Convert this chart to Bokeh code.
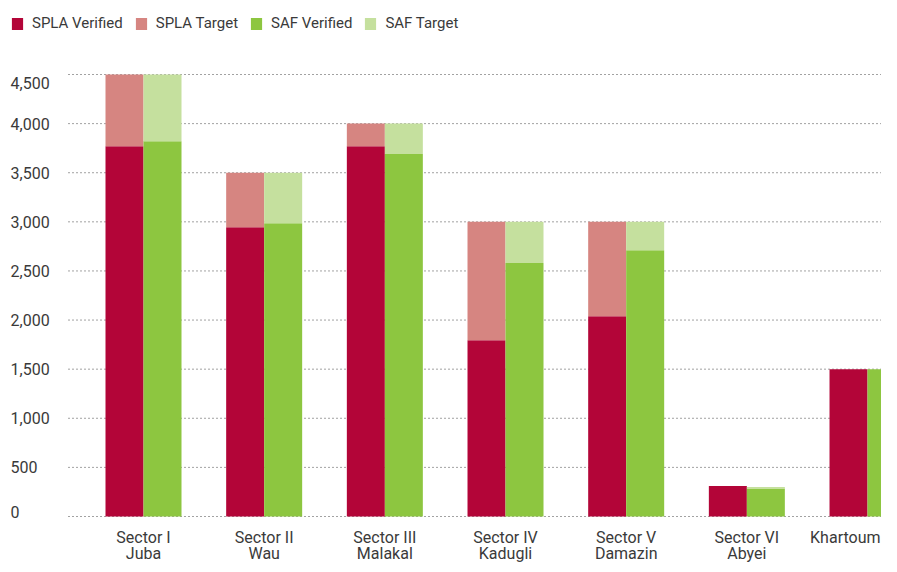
from bokeh.plotting import figure
from bokeh.models import Range1d, Legend, LegendItem, ColumnDataSource
from bokeh.core.properties import value
from bokeh.embed import file_html
from bokeh.resources import INLINE

# ---- data ----
sectors = ["Sector I", "Sector II", "Sector III", "Sector IV", "Sector V", "Sector VI", "Khartoum"]
towns = ["Juba", "Wau", "Malakal", "Kadugli", "Damazin", "Abyei", ""]
spla_verified = [3770, 2945, 3770, 1795, 2040, 310, 1500]
spla_target = [4500, 3500, 4000, 3000, 3000, 310, 1500]
saf_verified = [3820, 2985, 3690, 2580, 2710, 285, 1500]
saf_target = [4500, 3500, 4000, 3000, 3000, 300, 1500]
y_ticks = [0, 500, 1000, 1500, 2000, 2500, 3000, 3500, 4000, 4500]
y_tick_labels = ["0", "500", "1,000", "1,500", "2,000", "2,500", "3,000", "3,500", "4,000", "4,500"]

# ---- style ----
FONT_NAME = "Roboto"
FONT = value(FONT_NAME)
TXT = "#3a3a3a"
C_SPLA_V = "#b30538"
C_SPLA_T = "#d68581"
C_SAF_V = "#8dc640"
C_SAF_T = "#c5e09e"

W, H = 881, 564
px_per_unit_x = 120.67
x0_px = 143.0
x_start = -x0_px / px_per_unit_x
x_end = (W - x0_px) / px_per_unit_x
py = 442.0 / 4500.0
y_end = 4500 + 74 / py
y_start = -(H - 516) / py
bw = 38 / px_per_unit_x
grid_x0 = (68 - x0_px) / px_per_unit_x

p = figure(width=W, height=H, output_backend="svg", toolbar_location=None,
           x_range=Range1d(x_start, x_end), y_range=Range1d(y_start, y_end),
           x_axis_type=None, y_axis_type=None, min_border=0)
p.outline_line_color = None
p.background_fill_color = "white"

xs = list(range(len(sectors)))
src = ColumnDataSource(dict(
    x_spla=[i - bw / 2 for i in xs], x_saf=[i + bw / 2 for i in xs],
    spla_v=spla_verified, spla_t=spla_target, saf_v=saf_verified, saf_t=saf_target,
    zero=[0] * len(xs),
))

# gridlines
p.segment(x0=[grid_x0] * len(y_ticks), x1=[x_end + 1] * len(y_ticks), y0=y_ticks, y1=y_ticks,
          line_color="#444444", line_width=1, line_dash="1 3")

r1 = p.vbar(x="x_spla", width=bw, bottom="zero", top="spla_v", source=src,
            fill_color=C_SPLA_V, line_color=None)
r2 = p.vbar(x="x_spla", width=bw, bottom="spla_v", top="spla_t", source=src,
            fill_color=C_SPLA_T, line_color=None)
r3 = p.vbar(x="x_saf", width=bw, bottom="zero", top="saf_v", source=src,
            fill_color=C_SAF_V, line_color=None)
r4 = p.vbar(x="x_saf", width=bw, bottom="saf_v", top="saf_t", source=src,
            fill_color=C_SAF_T, line_color=None)

# y tick labels (left aligned)
yoff = [(-5 if t == min(y_ticks) else (8 if t == max(y_ticks) else 0)) for t in y_ticks]
ysrc = ColumnDataSource(dict(x=[x_start] * len(y_ticks), y=y_ticks, t=y_tick_labels, off=yoff))
p.text(x="x", y="y", text="t", y_offset="off", x_offset=10, source=ysrc, text_font=FONT,
       text_font_size="16px", text_color=TXT, text_align="left", text_baseline="middle")

# category labels (last one kept inside the right edge)
edge = x_end - 1.0 / px_per_unit_x
lab_x = [i if i < len(xs) - 1 else edge for i in xs]
lab_align = ["center" if i < len(xs) - 1 else "right" for i in xs]
csrc = ColumnDataSource(dict(x=lab_x, y=[0] * len(xs), s=sectors, t=towns, a=lab_align))
p.text(x="x", y="y", text="s", y_offset=21, source=csrc, text_font=FONT, text_align="a",
       text_font_size="16px", text_color=TXT, text_baseline="middle")
p.text(x="x", y="y", text="t", y_offset=37, source=csrc, text_font=FONT, text_align="a",
       text_font_size="16px", text_color=TXT, text_baseline="middle")

legend = Legend(items=[
    LegendItem(label="SPLA Verified", renderers=[r1]),
    LegendItem(label="SPLA Target", renderers=[r2]),
    LegendItem(label="SAF Verified", renderers=[r3]),
    LegendItem(label="SAF Target", renderers=[r4]),
], orientation="horizontal", location=(10, H - 32), padding=0, margin=0,
    spacing=11, label_standoff=8, glyph_width=14, glyph_height=15, label_height=15,
    border_line_color=None, background_fill_alpha=0,
    label_text_font=FONT_NAME, label_text_font_size="15px", label_text_color=TXT)
p.add_layout(legend)

open("out.html", "w").write(file_html(p, INLINE))
